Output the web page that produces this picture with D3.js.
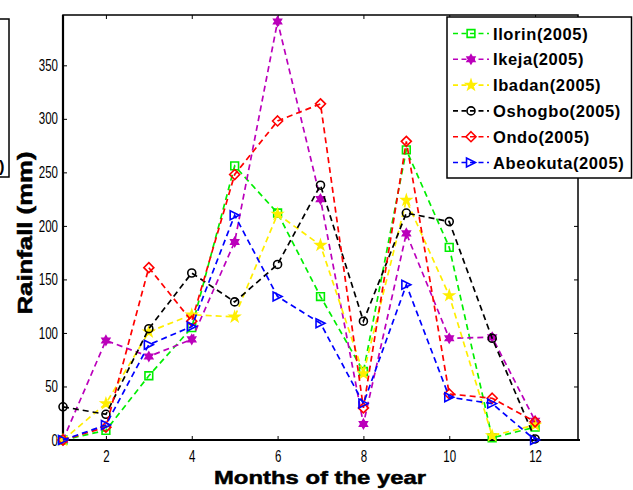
<!DOCTYPE html>
<html>
<head>
<meta charset="utf-8">
<script src="https://cdn.jsdelivr.net/npm/d3@7"></script>
<style>
  html, body { margin: 0; padding: 0; background: #fff; }
  svg { display: block; }
</style>
</head>
<body>
<svg id="chart" width="633" height="490"></svg>
<script>
// Monthly rainfall (mm), 2005, six south-western Nigerian stations
const months   = [1, 2, 3, 4, 5, 6, 7, 8, 9, 10, 11, 12];
const ilorin   = [0, 9, 60, 105, 256, 212, 134, 64, 271, 180, 2, 12];
const ikeja    = [0, 93, 78, 94, 185, 391, 225, 15, 193, 95, 96, 18];
const ibadan   = [0, 34, 101, 117, 115, 211, 182, 62, 224, 135, 4, 14];
const oshogbo  = [31, 24, 104, 156, 129, 164, 238, 111, 212, 204, 95, 1];
const ondo     = [0, 12, 161, 111, 248, 298, 314, 30, 279, 43, 39, 17];
const abeokuta = [0, 14, 89, 106, 210, 134, 109, 34, 145, 40, 34, 0];

const seriesNames = ["Ilorin(2005)", "Ikeja(2005)", "Ibadan(2005)", "Oshogbo(2005)", "Ondo(2005)", "Abeokuta(2005)"];
const xTicks = [2, 4, 6, 8, 10, 12];
const yTicks = [0, 50, 100, 150, 200, 250, 300, 350];
const xTitle = "Months of the year";
const yTitle = "Rainfall (mm)";

// custom marker shapes (size ~ edge length squared)
const triRight = { draw(ctx, size) { const r = Math.sqrt(size) / 2;
  ctx.moveTo(r, 0); ctx.lineTo(-r, -r); ctx.lineTo(-r, r); ctx.closePath(); } };
const diamond = { draw(ctx, size) { const r = Math.sqrt(size) / 2;
  ctx.moveTo(0, -r); ctx.lineTo(r, 0); ctx.lineTo(0, r); ctx.lineTo(-r, 0); ctx.closePath(); } };
const hexagram = { draw(ctx, size) { const r = Math.sqrt(size) / 2;
  for (let k = 0; k < 2; k++) {
    for (let i = 0; i < 3; i++) {
      const a = -Math.PI / 2 + k * Math.PI + i * 2 * Math.PI / 3;
      const px = r * Math.cos(a), py = r * Math.sin(a);
      if (i === 0) ctx.moveTo(px, py); else ctx.lineTo(px, py);
    }
    ctx.closePath();
  } } };

const series = [
  { name: seriesNames[0], values: ilorin,   color: "#00ee00", type: d3.symbolSquare, size: 60,  fill: false },
  { name: seriesNames[1], values: ikeja,    color: "#bb00bb", type: hexagram,        size: 80,  fill: true },
  { name: seriesNames[2], values: ibadan,   color: "#ffee00", type: d3.symbolStar,   size: 28,  fill: true },
  { name: seriesNames[3], values: oshogbo,  color: "#000000", type: d3.symbolCircle, size: 50,  fill: false },
  { name: seriesNames[4], values: ondo,     color: "#ff0000", type: diamond,         size: 100, fill: false },
  { name: seriesNames[5], values: abeokuta, color: "#0000ff", type: triRight,        size: 80,  fill: false }
];

const svg = d3.select("#chart");
const plot = { left: 63, right: 578, top: 15, bottom: 440 };

const x = d3.scaleLinear().domain([1, 13]).range([plot.left, plot.right]);
const y = d3.scaleLinear().domain([0, 397]).range([plot.bottom, plot.top]);

const tickFont = "'Liberation Sans', Arial, sans-serif";
const narrow = 0.72;

// axes: inward ticks on all four sides, labels bottom and left only
const gx = svg.append("g").attr("transform", `translate(0,${plot.bottom})`)
  .call(d3.axisBottom(x).tickValues(xTicks).tickFormat(d3.format("d")).tickSize(-4).tickPadding(11));
const gy = svg.append("g").attr("transform", `translate(${plot.left},0)`)
  .call(d3.axisLeft(y).tickValues(yTicks).tickFormat(d3.format("d")).tickSize(-4).tickPadding(5));
svg.append("g").attr("transform", `translate(0,${plot.top})`)
  .call(d3.axisTop(x).tickValues(xTicks).tickFormat("").tickSize(-4));
svg.append("g").attr("transform", `translate(${plot.right},0)`)
  .call(d3.axisRight(y).tickValues(yTicks).tickFormat("").tickSize(-4));

svg.selectAll(".domain").remove();
svg.selectAll(".tick line").attr("stroke", "#000").attr("stroke-width", 1);

[gx, gy].forEach(g => g.selectAll(".tick text")
  .attr("font-family", tickFont).attr("font-size", 16).attr("fill", "#000")
  .each(function () {
    const t = d3.select(this);
    t.attr("x", (+t.attr("x") || 0) / narrow).attr("transform", `scale(${narrow},1)`);
  }));

// plot frame
svg.append("rect")
  .attr("x", plot.left).attr("y", plot.top)
  .attr("width", plot.right - plot.left).attr("height", plot.bottom - plot.top)
  .attr("fill", "none").attr("stroke", "#000").attr("stroke-width", 1.5);
svg.append("path")
  .attr("d", `M${plot.left},${plot.top}V${plot.bottom}H${plot.right + 2}`)
  .attr("fill", "none").attr("stroke", "#000").attr("stroke-width", 2.2);

// series lines and markers
const line = d3.line().x((d, i) => x(months[i])).y(d => y(d));
const symbol = d3.symbol();

series.forEach(s => {
  const g = svg.append("g");
  g.append("path").datum(s.values).attr("d", line)
    .attr("fill", "none").attr("stroke", s.color).attr("stroke-width", 1.7)
    .attr("stroke-dasharray", "6,4");
  g.selectAll("path.mk").data(s.values).join("path").attr("class", "mk")
    .attr("transform", (d, i) => `translate(${x(months[i])},${y(d)})`)
    .attr("d", symbol.type(s.type).size(s.size)())
    .attr("fill", s.fill ? s.color : "none")
    .attr("stroke", s.color).attr("stroke-width", 1.6);
});

// axis titles
svg.append("text")
  .attr("x", 320).attr("y", 483.5).attr("text-anchor", "middle")
  .attr("font-family", "'Liberation Sans', Arial, sans-serif").attr("font-weight", "bold")
  .attr("font-size", 19).attr("textLength", 212).attr("lengthAdjust", "spacingAndGlyphs")
  .attr("stroke", "#000").attr("stroke-width", 0.5)
  .text(xTitle);
svg.append("text")
  .attr("transform", "translate(32,233) rotate(-90)").attr("text-anchor", "middle")
  .attr("font-family", "'Liberation Sans', Arial, sans-serif").attr("font-weight", "bold")
  .attr("font-size", 19.5).attr("textLength", 163).attr("lengthAdjust", "spacingAndGlyphs")
  .attr("stroke", "#000").attr("stroke-width", 0.5)
  .text(yTitle);

// legend
function drawLegend(g) {
  const rowH = 25.8, firstY = 33.5;
  series.forEach((s, i) => {
    const cy = firstY + i * rowH;
    g.append("line").attr("x1", 453).attr("x2", 489).attr("y1", cy).attr("y2", cy)
      .attr("stroke", s.color).attr("stroke-width", 1.6).attr("stroke-dasharray", "5,3.5");
    g.append("path").attr("transform", `translate(471,${cy})`)
      .attr("d", symbol.type(s.type).size(s.size)())
      .attr("fill", s.fill ? s.color : "none").attr("stroke", s.color).attr("stroke-width", 1.6);
    g.append("text").attr("x", 493).attr("y", cy + 6)
      .attr("font-family", "'Liberation Sans', Arial, sans-serif").attr("font-weight", "bold")
      .attr("font-size", 16.5).attr("letter-spacing", 0.6).text(s.name);
  });
}
const legend = svg.append("g");
legend.append("rect").attr("x", 447).attr("y", 17).attr("width", 184.5).attr("height", 161)
  .attr("fill", "#fff").attr("stroke", "#000").attr("stroke-width", 1.5);
drawLegend(legend);

// second legend frame, mostly off the left edge
const leftBox = svg.append("g");
leftBox.append("rect").attr("x", -200).attr("y", 19).attr("width", 209).attr("height", 158)
  .attr("fill", "none").attr("stroke", "#000").attr("stroke-width", 1.5);
leftBox.append("text").attr("x", 5).attr("y", 172).attr("text-anchor", "end")
  .attr("font-family", "'Liberation Sans', Arial, sans-serif").attr("font-weight", "bold")
  .attr("font-size", 16.5).attr("letter-spacing", 0.6).text(seriesNames[5]);
</script>
</body>
</html>
